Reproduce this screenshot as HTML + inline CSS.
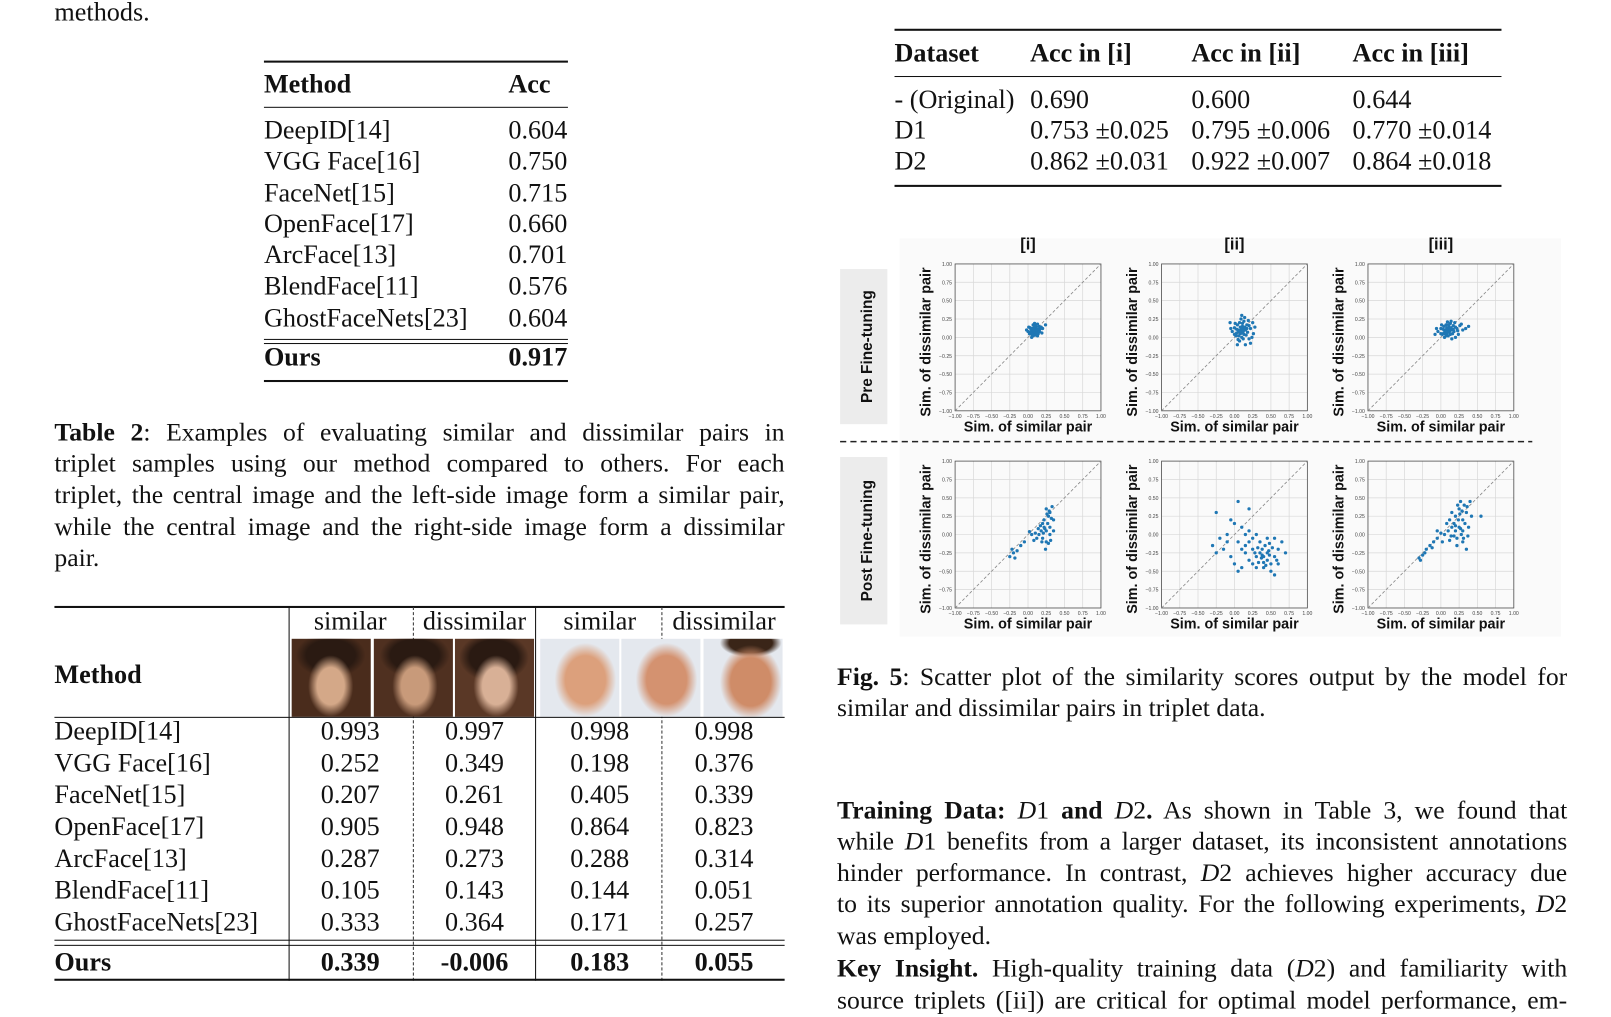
<!DOCTYPE html>
<html><head><meta charset="utf-8">
<style>
html,body{margin:0;padding:0;background:#fff;overflow:hidden}
#page{position:absolute;left:0;top:0;width:1570px;height:985px;transform:scale(1.027);transform-origin:0 0;font-family:"Liberation Serif",serif;color:#111}
.t{position:absolute;font-size:25.5px;line-height:30px;white-space:nowrap}
.b{font-weight:bold}
.rule{position:absolute;background:#111;height:2px}
.thin{height:1px}
.p{position:absolute;font-size:25px;line-height:30.5px;text-align:justify;text-align-last:justify;white-space:nowrap}
.c{text-align:center;transform:translateX(-50%)}
.face{position:absolute;top:622px;width:77px;height:76px;overflow:hidden}
</style></head><body>
<div id="page">
<div class="t" style="left:53px;top:-3px">methods.</div>

<!-- Table 1 -->
<div>
<div class="rule" style="left:257px;width:296px;top:59px"></div>
<div class="t b" style="left:257px;top:67px">Method</div><div class="t b" style="left:495px;top:67px">Acc</div>
<div class="rule thin" style="left:257px;width:296px;top:104px"></div>
<div class="t" style="left:257px;top:112px">DeepID[14]</div><div class="t" style="left:495px;top:112px">0.604</div>
<div class="t" style="left:257px;top:142px">VGG Face[16]</div><div class="t" style="left:495px;top:142px">0.750</div>
<div class="t" style="left:257px;top:173px">FaceNet[15]</div><div class="t" style="left:495px;top:173px">0.715</div>
<div class="t" style="left:257px;top:203px">OpenFace[17]</div><div class="t" style="left:495px;top:203px">0.660</div>
<div class="t" style="left:257px;top:233px">ArcFace[13]</div><div class="t" style="left:495px;top:233px">0.701</div>
<div class="t" style="left:257px;top:264px">BlendFace[11]</div><div class="t" style="left:495px;top:264px">0.576</div>
<div class="t" style="left:257px;top:295px">GhostFaceNets[23]</div><div class="t" style="left:495px;top:295px">0.604</div>
<div class="rule thin" style="left:257px;width:296px;top:330px"></div>
<div class="rule thin" style="left:257px;width:296px;top:334px"></div>
<div class="t b" style="left:257px;top:333px">Ours</div><div class="t b" style="left:495px;top:333px">0.917</div>
<div class="rule" style="left:257px;width:296px;top:370px"></div>
</div>

<div>
<div class="p" style="left:53px;top:407px;width:711px"><b>Table 2</b>: Examples of evaluating similar and dissimilar pairs in</div>
<div class="p" style="left:53px;top:437px;width:711px">triplet samples using our method compared to others. For each</div>
<div class="p" style="left:53px;top:468px;width:711px">triplet, the central image and the left-side image form a similar pair,</div>
<div class="p" style="left:53px;top:499px;width:711px">while the central image and the right-side image form a dissimilar</div>
<div class="t" style="left:53px;top:529px;font-size:25px">pair.</div>
</div>

<!-- Table 2 -->
<div>
<div class="rule" style="left:53px;width:711px;top:590px"></div>
<div style="position:absolute;left:281px;top:591px;width:1px;height:364px;background:#111"></div>
<div style="position:absolute;left:521px;top:591px;width:1px;height:364px;background:#111"></div>
<div style="position:absolute;left:402px;top:591px;height:364px;border-left:1px dashed #333"></div>
<div style="position:absolute;left:644px;top:591px;height:364px;border-left:1px dashed #333"></div>
<div class="t c" style="left:341px;top:590px">similar</div>
<div class="t c" style="left:462px;top:590px">dissimilar</div>
<div class="t c" style="left:584px;top:590px">similar</div>
<div class="t c" style="left:705px;top:590px">dissimilar</div>
<div class="t b" style="left:53px;top:642px">Method</div>
<div class="face" style="left:284px;background:radial-gradient(ellipse 22px 30px at 38px 46px,#d4a888 60%,transparent 100%),radial-gradient(ellipse 34px 22px at 38px 16px,#2a1a12 70%,transparent 100%),#4a2c1c"></div>
<div class="face" style="left:364px;background:radial-gradient(ellipse 22px 30px at 40px 46px,#c89a7a 60%,transparent 100%),radial-gradient(ellipse 34px 22px at 40px 16px,#2a1a12 70%,transparent 100%),#4f3020"></div>
<div class="face" style="left:443px;background:radial-gradient(ellipse 22px 30px at 40px 46px,#d8b096 60%,transparent 100%),radial-gradient(ellipse 34px 24px at 38px 18px,#2a1a12 70%,transparent 100%),#5a3826"></div>
<div class="face" style="left:526px;background:radial-gradient(ellipse 30px 36px at 44px 40px,#dca07c 65%,transparent 100%),#e4e8ee"></div>
<div class="face" style="left:605px;background:radial-gradient(ellipse 30px 36px at 44px 40px,#d49270 65%,transparent 100%),#e4e8ee"></div>
<div class="face" style="left:685px;background:radial-gradient(ellipse 30px 36px at 46px 42px,#cf8c68 65%,transparent 100%),radial-gradient(ellipse 30px 14px at 46px 4px,#3a2518 70%,transparent 100%),#e4e8ee"></div>
<div class="rule thin" style="left:53px;width:711px;top:698px"></div>
<div id="t2rows"></div>
<div class="rule thin" style="left:53px;width:711px;top:915px"></div>
<div class="rule thin" style="left:53px;width:711px;top:920px"></div>
<div class="rule" style="left:53px;width:711px;top:953px"></div>
</div>

<!-- Table 3 -->
<div>
<div class="rule" style="left:871px;width:591px;top:28px"></div>
<div class="t b" style="left:871px;top:37px">Dataset</div><div class="t b" style="left:1003px;top:37px">Acc in [i]</div><div class="t b" style="left:1160px;top:37px">Acc in [ii]</div><div class="t b" style="left:1317px;top:37px">Acc in [iii]</div>
<div class="rule thin" style="left:871px;width:591px;top:74px"></div>
<div class="t" style="left:871px;top:82px">- (Original)</div><div class="t" style="left:1003px;top:82px">0.690</div><div class="t" style="left:1160px;top:82px">0.600</div><div class="t" style="left:1317px;top:82px">0.644</div>
<div class="t" style="left:871px;top:112px">D1</div><div class="t" style="left:1003px;top:112px">0.753 ±0.025</div><div class="t" style="left:1160px;top:112px">0.795 ±0.006</div><div class="t" style="left:1317px;top:112px">0.770 ±0.014</div>
<div class="t" style="left:871px;top:142px">D2</div><div class="t" style="left:1003px;top:142px">0.862 ±0.031</div><div class="t" style="left:1160px;top:142px">0.922 ±0.007</div><div class="t" style="left:1317px;top:142px">0.864 ±0.018</div>
<div class="rule" style="left:871px;width:591px;top:180px"></div>
</div>

<svg id="fig" style="position:absolute;left:0;top:0" width="1570" height="985"></svg>

<div>
<div class="p" style="left:815px;top:645px;width:711px"><b>Fig. 5</b>: Scatter plot of the similarity scores output by the model for</div>
<div class="t" style="left:815px;top:675px;font-size:25px">similar and dissimilar pairs in triplet data.</div>
</div>

<div>
<div class="p" style="left:815px;top:775px;width:711px"><b>Training Data:</b> <i>D</i>1 <b>and</b> <i>D</i>2<b>.</b> As shown in Table 3, we found that</div>
<div class="p" style="left:815px;top:805px;width:711px">while <i>D</i>1 benefits from a larger dataset, its inconsistent annotations</div>
<div class="p" style="left:815px;top:836px;width:711px">hinder performance. In contrast, <i>D</i>2 achieves higher accuracy due</div>
<div class="p" style="left:815px;top:866px;width:711px">to its superior annotation quality. For the following experiments, <i>D</i>2</div>
<div class="t" style="left:815px;top:897px;font-size:25px">was employed.</div>
<div class="p" style="left:815px;top:929px;width:711px"><b>Key Insight.</b> High-quality training data (<i>D</i>2) and familiarity with</div>
<div class="p" style="left:815px;top:960px;width:711px">source triplets ([ii]) are critical for optimal model performance, em-</div>
</div>
</div>

<script>
// Table 2 data
const t2Methods=["DeepID[14]","VGG Face[16]","FaceNet[15]","OpenFace[17]","ArcFace[13]","BlendFace[11]","GhostFaceNets[23]"];
const t2Values=[["0.993","0.997","0.998","0.998"],["0.252","0.349","0.198","0.376"],["0.207","0.261","0.405","0.339"],["0.905","0.948","0.864","0.823"],["0.287","0.273","0.288","0.314"],["0.105","0.143","0.144","0.051"],["0.333","0.364","0.171","0.257"]];
const t2Ours=["0.339","-0.006","0.183","0.055"];
const colCenters=[341,462,584,705];
(function(){
  const host=document.getElementById('t2rows');
  function cell(txt,x,y,bold,center){
    const d=document.createElement('div');
    d.className='t'+(bold?' b':'')+(center?' c':'');
    d.style.left=x+'px';d.style.top=y+'px';d.textContent=txt;
    
    
    host.appendChild(d);
  }
  t2Methods.forEach((m,i)=>{const y=697+i*31;cell(m,53,y,false,false);t2Values[i].forEach((v,j)=>cell(v,colCenters[j],y,false,true));});
  cell("Ours",53,922,true,false);t2Ours.forEach((v,j)=>cell(v,colCenters[j],922,true,true));
})();

// Scatter data [x,y] = [sim similar, sim dissimilar]
const preI=[[0.05,0.1],[0.1,0.12],[0.08,0.05],[0.12,0.08],[0.03,0.13],[0.15,0.1],[0.07,0.17],[0.1,0.03],[0.0,0.08],[0.18,0.14],[0.05,0.0],[0.13,0.18],[0.2,0.12],[0.02,0.05],[0.09,0.1],[0.11,0.14],[0.06,0.08],[0.14,0.05],[0.08,0.13],[0.04,0.11],[0.16,0.08],[0.1,0.07],[0.12,0.11],[0.07,0.02],[0.24,0.17],[-0.02,0.1],[0.09,0.19],[0.15,0.15],[0.06,0.12],[0.11,0.09],[0.13,0.02],[0.03,0.07],[0.17,0.12],[0.01,0.14],[0.19,0.06],[0.08,0.09],[0.1,0.16],[0.05,0.04],[0.14,0.11],[0.12,0.06]];
const preII=[[0.05,0.1],[0.1,0.12],[0.08,0.05],[0.12,0.08],[0.0,0.13],[0.15,0.1],[0.07,0.2],[0.1,0.0],[-0.03,0.08],[0.2,0.16],[0.05,-0.03],[0.13,0.22],[0.22,0.12],[0.02,0.02],[0.09,0.1],[0.11,0.15],[0.06,0.08],[0.16,0.03],[0.08,0.14],[0.03,0.11],[0.18,0.07],[0.1,0.06],[0.12,0.11],[0.07,-0.05],[0.25,0.2],[-0.05,0.12],[0.09,0.25],[0.17,0.17],[0.04,0.17],[0.13,0.04],[0.2,-0.02],[0.0,0.04],[0.26,0.05],[0.14,0.27],[0.22,-0.08],[0.04,-0.1],[-0.06,0.2],[0.28,0.14],[0.15,-0.1],[0.1,0.3],[0.19,0.23],[0.01,0.19],[0.24,0.0],[0.06,0.02],[0.14,0.14],[0.11,0.19],[0.08,0.08],[0.17,0.12],[0.03,0.06],[0.12,-0.02]];
const preIII=[[0.05,0.1],[0.1,0.12],[0.08,0.05],[0.12,0.08],[0.0,0.12],[0.15,0.1],[0.07,0.17],[0.1,0.02],[-0.04,0.08],[0.2,0.14],[0.05,0.0],[0.13,0.19],[0.22,0.12],[0.02,0.04],[0.09,0.1],[0.11,0.14],[0.06,0.08],[0.16,0.05],[0.08,0.13],[0.03,0.11],[0.18,0.08],[0.1,0.07],[0.12,0.11],[0.07,0.02],[0.26,0.16],[-0.06,0.12],[0.09,0.21],[0.17,0.16],[0.04,0.15],[0.13,0.04],[0.24,0.04],[0.0,0.05],[0.3,0.1],[0.14,0.22],[0.2,0.0],[0.34,0.12],[-0.08,0.04],[0.28,0.18],[0.15,-0.02],[0.19,0.2],[0.01,0.17],[0.23,0.09],[0.06,0.05],[0.14,0.13],[0.11,0.17],[0.17,0.11],[0.04,0.06],[0.38,0.15]];
const postI=[[0.25,0.35],[0.3,0.3],[0.28,0.25],[0.33,0.38],[0.35,0.2],[0.2,0.15],[0.22,0.1],[0.25,0.05],[0.18,0.05],[0.3,0.1],[0.15,0.0],[0.2,-0.05],[0.25,-0.1],[0.28,-0.12],[0.1,0.02],[0.05,0.0],[0.12,-0.05],[0.3,0.0],[0.22,0.2],[0.32,0.22],[0.17,0.12],[0.27,0.15],[0.35,0.05],[0.08,-0.08],[0.24,-0.2],[0.19,-0.1],[0.14,0.08],[0.26,0.28],[0.31,-0.08],[0.21,0.02],[-0.2,-0.25],[-0.25,-0.3],[-0.18,-0.32],[-0.22,-0.2],[-0.1,-0.15],[-0.15,-0.22],[-0.05,-0.1],[0.02,0.04],[0.29,0.32],[0.23,0.08]];
const postII=[[0.4,-0.3],[0.35,-0.25],[0.45,-0.35],[0.5,-0.4],[0.38,-0.2],[0.42,-0.15],[0.3,-0.3],[0.48,-0.28],[0.55,-0.3],[0.33,-0.38],[0.6,-0.2],[0.25,-0.2],[0.2,-0.1],[0.15,-0.25],[0.5,-0.5],[0.4,-0.45],[0.3,-0.45],[0.1,-0.45],[0.0,-0.4],[0.05,-0.5],[-0.05,-0.3],[-0.15,-0.2],[-0.25,-0.25],[-0.2,-0.05],[-0.1,0.0],[0.0,0.15],[-0.05,0.2],[0.1,0.1],[0.2,0.05],[0.3,0.0],[0.05,-0.1],[0.15,-0.15],[0.25,-0.4],[0.45,-0.05],[0.6,-0.4],[0.7,-0.25],[0.65,-0.1],[0.55,-0.05],[0.35,-0.1],[0.4,-0.38],[0.45,-0.25],[0.37,-0.32],[0.52,-0.18],[0.28,-0.25],[0.2,-0.35],[-0.25,0.3],[0.05,0.45],[0.2,0.35],[-0.3,-0.15],[0.1,-0.2],[0.48,-0.12],[0.58,-0.35],[0.32,-0.18],[0.43,-0.42],[0.38,-0.28],[0.47,-0.22],[0.15,0.0],[-0.1,-0.1],[0.25,-0.05],[0.55,-0.55]];
const postIII=[[0.25,0.1],[0.3,0.2],[0.2,0.05],[0.28,0.0],[0.35,0.3],[0.32,0.4],[0.25,0.35],[0.18,0.15],[0.22,-0.05],[0.3,-0.1],[0.15,0.1],[0.1,0.05],[0.05,0.0],[0.12,-0.08],[0.2,0.25],[0.38,0.1],[0.4,0.45],[0.27,0.45],[0.35,-0.2],[0.22,-0.15],[0.0,0.02],[-0.05,-0.05],[-0.1,-0.1],[-0.15,-0.15],[-0.2,-0.2],[-0.25,-0.28],[-0.3,-0.32],[-0.28,-0.35],[-0.22,-0.25],[-0.12,-0.18],[-0.05,0.05],[0.08,0.15],[0.15,0.3],[0.3,0.05],[0.33,0.15],[0.24,0.2],[0.18,-0.02],[0.26,0.28],[0.42,0.25],[0.55,0.25],[0.36,0.38],[0.2,0.12],[0.29,0.32],[0.12,0.2],[0.02,-0.1],[0.31,-0.05],[0.23,0.4],[0.37,-0.02],[0.14,-0.02],[0.27,0.08]];

const panelData=[[preI,preII,preIII],[postI,postII,postIII]];
const ticks=[-1,-0.75,-0.5,-0.25,0,0.25,0.5,0.75,1];
const tickLabels=["−1.00","−0.75","−0.50","−0.25","0.00","0.25","0.50","0.75","1.00"];
const colTitles=["[i]","[ii]","[iii]"];
const rowTitles=["Pre Fine-tuning","Post Fine-tuning"];

(function(){
  const NS='http://www.w3.org/2000/svg';
  const svg=document.getElementById('fig');
  function el(tag,attrs,parent){const e=document.createElementNS(NS,tag);for(const k in attrs)e.setAttribute(k,attrs[k]);(parent||svg).appendChild(e);return e;}
  const lefts=[930,1131,1332],tops=[257,449],W=142,H=143;
  const bg=el('rect',{x:876,y:232,width:644,height:388,fill:'#fafafa'});
  
  
  [[262,151],[445,163]].forEach((r,i)=>{
    const g=el('g',{});
    
    
    el('rect',{x:818,y:r[0],width:46,height:r[1],fill:'#ececec'},g);
    const t=el('text',{x:0,y:0,transform:`translate(849,${r[0]+r[1]/2}) rotate(-90)`,'text-anchor':'middle','font-family':'Liberation Sans, sans-serif','font-weight':'bold','font-size':15,fill:'#111'},g);
    t.textContent=rowTitles[i];
  });
  const dl=el('line',{x1:818,y1:430,x2:1492,y2:430,stroke:'#222','stroke-width':1.5,'stroke-dasharray':'6,4'});
  
  
  colTitles.forEach((c,j)=>{
    const t=el('text',{x:lefts[j]+71,y:243,'text-anchor':'middle','font-family':'Liberation Sans, sans-serif','font-weight':'bold','font-size':16,fill:'#111'});
    
    
    t.textContent=c;
  });
  for(let r=0;r<2;r++)for(let c=0;c<3;c++){
    const L=lefts[c],T=tops[r];
    const sx=v=>L+(v+1)/2*W, sy=v=>T+(1-v)/2*H;
    const g=el('g',{});
    
    
    ticks.forEach((v,k)=>{
      el('line',{x1:sx(v),y1:T,x2:sx(v),y2:T+H,stroke:'#d8d8d8','stroke-width':0.7},g);
      el('line',{x1:L,y1:sy(v),x2:L+W,y2:sy(v),stroke:'#d8d8d8','stroke-width':0.7},g);
      const tx=el('text',{x:sx(v),y:T+H+7,'text-anchor':'middle','font-family':'Liberation Sans, sans-serif','font-size':5,fill:'#444'},g);
      tx.textContent=tickLabels[k];
      const ty=el('text',{x:L-3,y:sy(v)+2,'text-anchor':'end','font-family':'Liberation Sans, sans-serif','font-size':5,fill:'#444'},g);
      ty.textContent=tickLabels[k];
    });
    el('rect',{x:L,y:T,width:W,height:H,fill:'none',stroke:'#555','stroke-width':0.8},g);
    el('line',{x1:sx(-1),y1:sy(-1),x2:sx(1),y2:sy(1),stroke:'#888','stroke-width':0.8,'stroke-dasharray':'3,2'},g);
    panelData[r][c].forEach(p=>{
      const d=el('circle',{cx:sx(p[0]),cy:sy(p[1]),r:1.6,fill:'#1f77b4'},g);
      
      
    });
    const xl=el('text',{x:L+71,y:T+163,'text-anchor':'middle','font-family':'Liberation Sans, sans-serif','font-weight':'bold','font-size':14,fill:'#111'},g);
    
    
    xl.textContent='Sim. of similar pair';
    const yl=el('text',{x:0,y:0,transform:`translate(${L-24},${T+76}) rotate(-90)`,'text-anchor':'middle','font-family':'Liberation Sans, sans-serif','font-weight':'bold','font-size':14,fill:'#111'},g);
    
    
    yl.textContent='Sim. of dissimilar pair';
  }
})();
</script>
</body></html>
